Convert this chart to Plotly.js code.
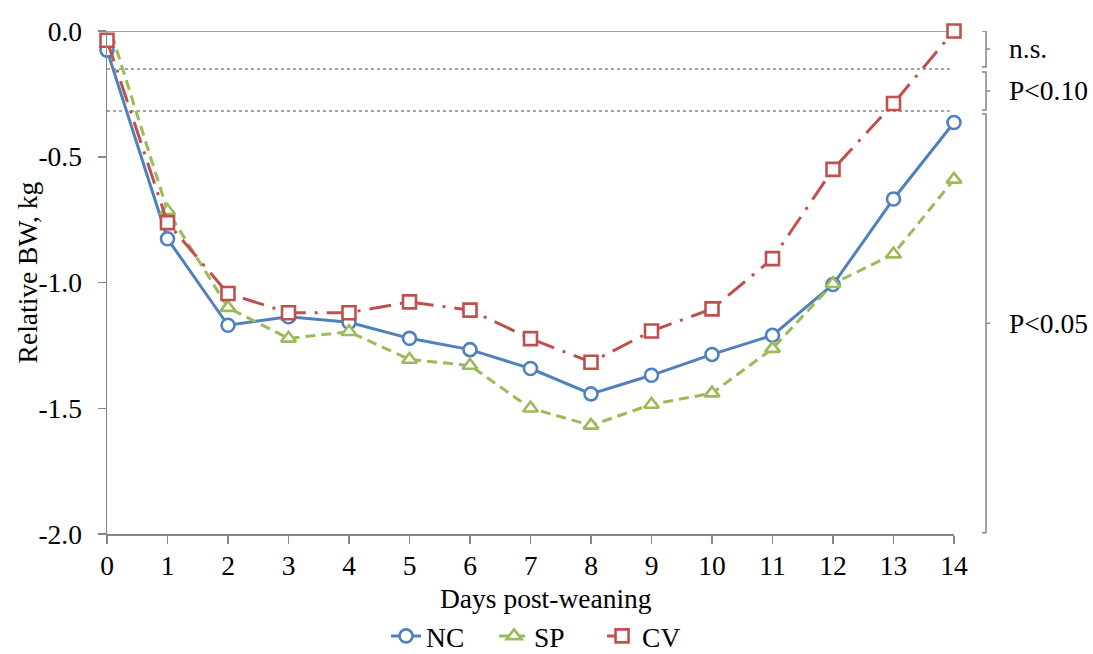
<!DOCTYPE html>
<html>
<head>
<meta charset="utf-8">
<script src="https://cdn.plot.ly/plotly-3.0.1.min.js"></script>
<style>
  html, body { margin: 0; padding: 0; background: #fff; }
  #chart { width: 1093px; height: 654px; }
</style>
</head>
<body>
<div id="chart"></div>
<script>
// ---- data ----
const days = [0, 1, 2, 3, 4, 5, 6, 7, 8, 9, 10, 11, 12, 13, 14];
const NC = [-0.076, -0.826, -1.17, -1.136, -1.158, -1.222, -1.267, -1.342, -1.443, -1.369, -1.286, -1.21, -1.008, -0.668, -0.364];
const SP = [0.047, -0.715, -1.10, -1.222, -1.196, -1.306, -1.330, -1.500, -1.568, -1.485, -1.440, -1.263, -1.005, -0.887, -0.590];
const CV = [-0.037, -0.762, -1.044, -1.120, -1.120, -1.077, -1.110, -1.223, -1.317, -1.193, -1.105, -0.905, -0.550, -0.288, 0.0];
const seriesNames = ["NC", "SP", "CV"];
const thresholds = [-0.151, -0.318];
const bracketTops = [0.0, -0.163, -0.330];
const bracketBottoms = [-0.143, -0.314, -1.995];
const bracketLabels = ["n.s.", "P<0.10", "P<0.05"];
const yTickVals = [0, -0.5, -1.0, -1.5, -2.0];
const yTickText = ["0.0", "-0.5", "-1.0", "-1.5", "-2.0"];
const xTitle = "Days post-weaning";
const yTitle = "Relative BW, kg";

const FONT = "'Liberation Serif', 'Times New Roman', serif";
const FS = 27.5;
const GRAY = "#868686";
const BLUE = "#4F81BD", GREEN = "#9BBB59", RED = "#C0504D";

const traces = [
  { x: days, y: NC, name: seriesNames[0], type: "scatter", mode: "lines+markers", cliponaxis: false,
    line: { color: BLUE, width: 3, dash: "solid" },
    marker: { symbol: "circle", size: 13, color: "#ffffff", line: { color: BLUE, width: 2.6 } } },
  { x: days, y: SP, name: seriesNames[1], type: "scatter", mode: "lines+markers", cliponaxis: false,
    line: { color: GREEN, width: 3, dash: "10px,6px" },
    marker: { symbol: "triangle-up", size: 13, color: "#ffffff", line: { color: GREEN, width: 2.6 } } },
  { x: days, y: CV, name: seriesNames[2], type: "scatter", mode: "lines+markers", cliponaxis: false,
    line: { color: RED, width: 3, dash: "22px,9px,3px,9px" },
    marker: { symbol: "square", size: 13, color: "#ffffff", line: { color: RED, width: 2.6 } } }
];

const shapes = [];
shapes.push({ type: "line", xref: "x", yref: "y", x0: 0, x1: 14, y0: 0, y1: 0,
  line: { color: GRAY, width: 1.5 }, layer: "below" });
thresholds.forEach(t => shapes.push({ type: "line", xref: "x", yref: "y", x0: 0, x1: 13.93, y0: t, y1: t,
  line: { color: GRAY, width: 1.5, dash: "dot" }, layer: "below" }));

const bxL = 1.033, bxV = 1.0378, bxT = 1.0425;
const annotations = [];
bracketTops.forEach((top, i) => {
  const bot = bracketBottoms[i];
  const mid = (top + bot) / 2;
  shapes.push({ type: "path", xref: "paper", yref: "y",
    path: `M ${bxL},${top} L ${bxV},${top} L ${bxV},${bot} L ${bxL},${bot} M ${bxV},${mid} L ${bxT},${mid}`,
    line: { color: GRAY, width: 1.5 } });
  annotations.push({ xref: "paper", yref: "y", x: 1.0626, y: mid, xanchor: "left", yanchor: "middle",
    text: bracketLabels[i], showarrow: false, font: { family: FONT, size: FS, color: "#000" } });
});
// axis titles
annotations.push({ xref: "paper", yref: "paper", x: -0.0945, y: 0.52, xanchor: "center", yanchor: "middle",
  text: yTitle, textangle: -90, showarrow: false, font: { family: FONT, size: FS, color: "#000" } });
annotations.push({ xref: "paper", yref: "paper", x: 0.518, y: -0.128, xanchor: "center", yanchor: "middle",
  text: xTitle, showarrow: false, font: { family: FONT, size: FS, color: "#000" } });

const layout = {
  width: 1093, height: 654,
  margin: { l: 107, r: 139, t: 31, b: 120 },
  paper_bgcolor: "#fff", plot_bgcolor: "#fff",
  font: { family: FONT, size: FS, color: "#000" },
  showlegend: true,
  legend: { orientation: "h", xref: "container", yref: "container", x: 0.3532, y: 0.0275,
    xanchor: "left", yanchor: "middle", font: { family: FONT, size: FS, color: "#000" },
    bgcolor: "rgba(0,0,0,0)", entrywidth: 63, entrywidthmode: "pixels", tracegroupgap: 0 },
  xaxis: {
    range: [0, 14], tickvals: days, ticktext: days.map(String),
    showgrid: false, zeroline: false, showline: true, linecolor: GRAY, linewidth: 1.5,
    ticks: "outside", ticklen: 8, tickcolor: GRAY, tickwidth: 1.5,
    tickfont: { family: FONT, size: FS, color: "#000" },
    ticklabelstandoff: -2,
    automargin: false, fixedrange: true
  },
  yaxis: {
    range: [-2, 0], tickvals: yTickVals, ticktext: yTickText,
    showgrid: false, zeroline: false, showline: true, linecolor: GRAY, linewidth: 1.5,
    ticks: "outside", ticklen: 8, tickcolor: GRAY, tickwidth: 1.5,
    tickfont: { family: FONT, size: FS, color: "#000" },
    ticklabelstandoff: 10,
    automargin: false, fixedrange: true
  },
  shapes: shapes,
  annotations: annotations
};

Plotly.newPlot("chart", traces, layout, { displayModeBar: false, staticPlot: true });
</script>
</body>
</html>
